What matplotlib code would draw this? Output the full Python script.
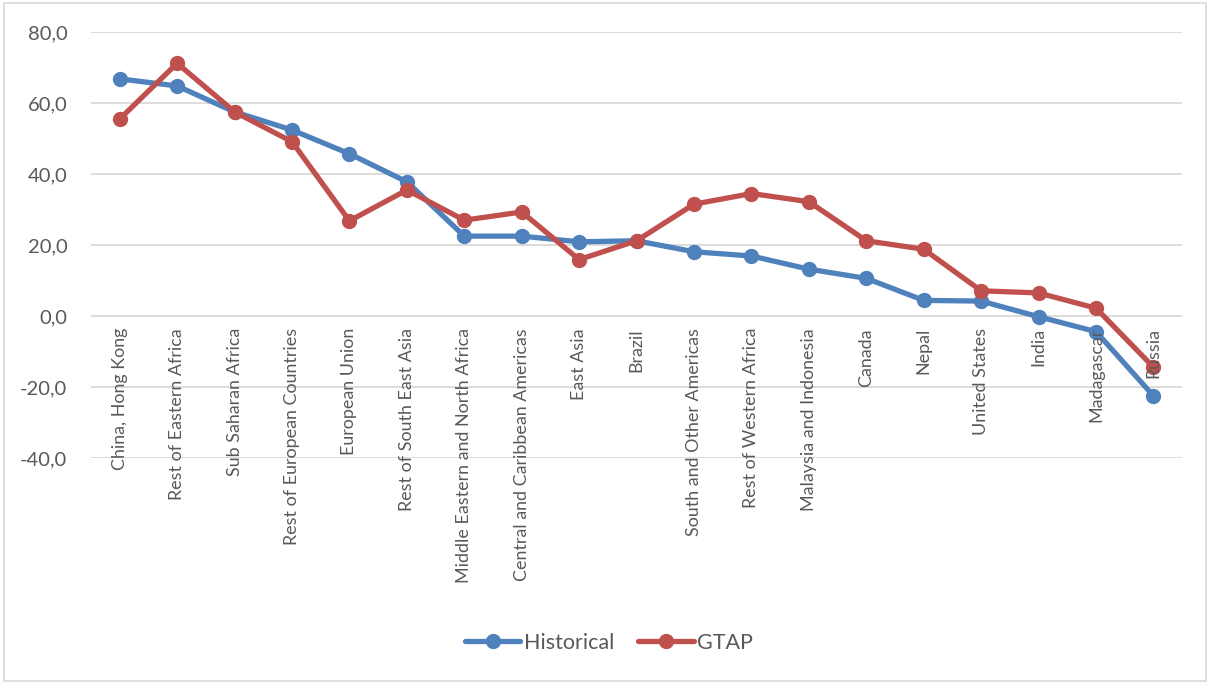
import matplotlib
matplotlib.use("Agg")
import matplotlib.pyplot as plt
from matplotlib.patches import Rectangle
from matplotlib.ticker import FuncFormatter
from matplotlib.transforms import offset_copy

regions = [
    "China, Hong Kong", "Rest of Eastern Africa", "Sub Saharan Africa",
    "Rest of European Countries", "European Union", "Rest of South East Asia",
    "Middle Eastern and North Africa", "Central and Caribbean Americas",
    "East Asia", "Brazil", "South and Other Americas", "Rest of Western Africa",
    "Malaysia and Indonesia", "Canada", "Nepal", "United States", "India",
    "Madagascar", "Russia",
]
historical = [66.8, 64.8, 57.5, 52.4, 45.7, 37.8, 22.5, 22.5, 20.9, 21.2,
              18.1, 16.9, 13.2, 10.6, 4.4, 4.2, -0.2, -4.4, -22.5]
gtap = [55.5, 71.2, 57.5, 49.1, 26.8, 35.5, 27.0, 29.3, 15.9, 21.2,
        31.5, 34.5, 32.2, 21.2, 18.8, 7.1, 6.5, 2.2, -14.4]

BLUE = "#4F81BD"
RED = "#C0504D"
GREY = "#595959"

plt.rcParams["font.family"] = ["Lato", "DejaVu Sans"]

fig = plt.figure(figsize=(12.1, 6.84), dpi=100)
ax = fig.add_axes([0.0752, 0.3304, 0.9018, 0.6228])

x = range(len(regions))
ax.plot(x, historical, color=BLUE, lw=3.8, marker="o", ms=10,
        solid_capstyle="round", label="Historical", zorder=3)
ax.plot(x, gtap, color=RED, lw=3.8, marker="o", ms=10,
        solid_capstyle="round", label="GTAP", zorder=3)

ax.set_xlim(-0.5, len(regions) - 0.5)
ax.set_ylim(-40, 80)
ax.set_yticks(range(-40, 81, 20))
ax.yaxis.set_major_formatter(FuncFormatter(lambda v, _: f"{v:.1f}".replace(".", ",")))
ax.set_xticks([])
ax.tick_params(axis="y", length=0, labelsize=14.5, colors=GREY, pad=17)
ax.grid(axis="y", color="#D9D9D9", lw=1.3)
ax.set_axisbelow(True)
for s in ax.spines.values():
    s.set_visible(False)

# category labels hang below the zero line (axis crosses at 0)
lab_tr = offset_copy(ax.transData, fig=fig, y=-12, units="dots")
for i, name in enumerate(regions):
    ax.text(i, 0, name, transform=lab_tr, rotation=90, ha="center", va="top",
            fontsize=12.9, color=GREY, zorder=4, clip_on=False)

leg = fig.legend(loc="center", bbox_to_anchor=(0.503, 0.06), ncol=2, frameon=False,
                 fontsize=15.5, handlelength=2.6, handletextpad=0.15,
                 columnspacing=1.1)
for t in leg.get_texts():
    t.set_color(GREY)

# thin border around the chart area
fig.patches.append(Rectangle((0.003, 0.004), 0.994, 0.992, transform=fig.transFigure,
                             fill=False, edgecolor="#D9D9D9", lw=1.2))

fig.savefig("out.png", dpi=100)
